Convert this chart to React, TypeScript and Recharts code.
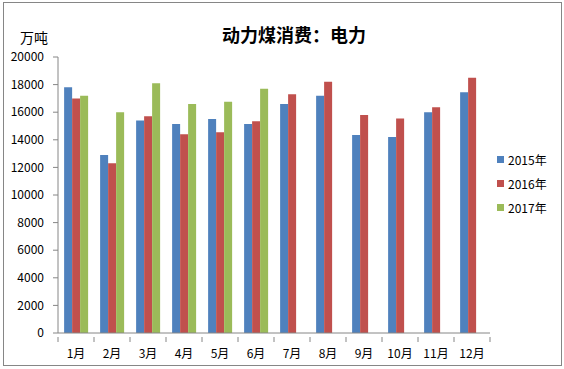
import { BarChart, Bar, XAxis, YAxis } from 'recharts'

const MONTHS = ['1月', '2月', '3月', '4月', '5月', '6月', '7月', '8月', '9月', '10月', '11月', '12月']
const Y2015 = [17800, 12900, 15400, 15150, 15500, 15150, 16600, 17200, 14350, 14200, 16000, 17450]
const Y2016 = [17000, 12300, 15700, 14400, 14550, 15350, 17300, 18200, 15800, 15550, 16350, 18500]
const Y2017 = [17200, 16000, 18100, 16600, 16750, 17700, null, null, null, null, null, null]
const Y_TICKS = [0, 2000, 4000, 6000, 8000, 10000, 12000, 14000, 16000, 18000, 20000]

const SERIES = [
  { key: 'y2015', name: '2015年', color: '#4F81BD' },
  { key: 'y2016', name: '2016年', color: '#C0504D' },
  { key: 'y2017', name: '2017年', color: '#9BBB59' },
]

const FONT = '"Noto Sans CJK SC", "Microsoft YaHei", sans-serif'
const AXIS = '#868686'

const data = MONTHS.map((m, i) => ({ month: m, y2015: Y2015[i], y2016: Y2016[i], y2017: Y2017[i] }))

// excel puts x ticks between categories, not under them
const PLOT_W = 432
const HALF = PLOT_W / MONTHS.length / 2

function MonthTick(props: any) {
  const { x, y, payload, index } = props
  const top = y - 4
  return (
    <g>
      <line x1={x - HALF} y1={top} x2={x - HALF} y2={top + 5} stroke={AXIS} />
      {index === MONTHS.length - 1 && <line x1={x + HALF} y1={top} x2={x + HALF} y2={top + 5} stroke={AXIS} />}
      <text x={x} y={top + 21} textAnchor="middle" fontSize={12} fill="#000" fontFamily={FONT}>{payload.value}</text>
    </g>
  )
}

export default function App() {
  return (
    <div style={{ position: 'absolute', left: 0, top: 0, width: 564, height: 369, background: '#fff' }}>
      <div style={{ position: 'absolute', left: 3, top: 2, width: 557, height: 362, border: `1px solid ${AXIS}` }} />
      <div style={{ position: 'absolute', left: 0, width: 588, top: 25, lineHeight: 1, textAlign: 'center', fontFamily: FONT, fontSize: 18, fontWeight: 700, color: '#000' }}>
        动力煤消费：电力
      </div>
      <div style={{ position: 'absolute', left: 20, top: 30, lineHeight: 1, fontFamily: FONT, fontSize: 14, color: '#000' }}>万吨</div>
      <div style={{ position: 'absolute', left: 0, top: 0 }}>
        <BarChart width={564} height={369} data={data} margin={{ top: 57, right: 74, bottom: 0, left: 0 }}
          barCategoryGap="17%" barGap={0}>
          <XAxis dataKey="month" height={36} axisLine={{ stroke: AXIS }} tickLine={false} tick={<MonthTick />} interval={0} />
          <YAxis width={58} domain={[0, 20000]} ticks={Y_TICKS} interval={0} axisLine={{ stroke: AXIS }}
            tickLine={{ stroke: AXIS }} tickSize={5} tickMargin={9}
            tick={{ fill: '#000', fontSize: 12, fontFamily: FONT }} />
          {SERIES.map(s => (
            <Bar key={s.key} dataKey={s.key} name={s.name} fill={s.color} isAnimationActive={false} />
          ))}
        </BarChart>
      </div>
      <div style={{ position: 'absolute', left: 497, top: 147, fontFamily: FONT, fontSize: 12, color: '#000' }}>
        {SERIES.map(s => (
          <div key={s.key} style={{ display: 'flex', alignItems: 'center', height: 24 }}>
            <span style={{ display: 'inline-block', width: 7, height: 7, background: s.color, marginRight: 4 }} />
            {s.name}
          </div>
        ))}
      </div>
    </div>
  )
}
